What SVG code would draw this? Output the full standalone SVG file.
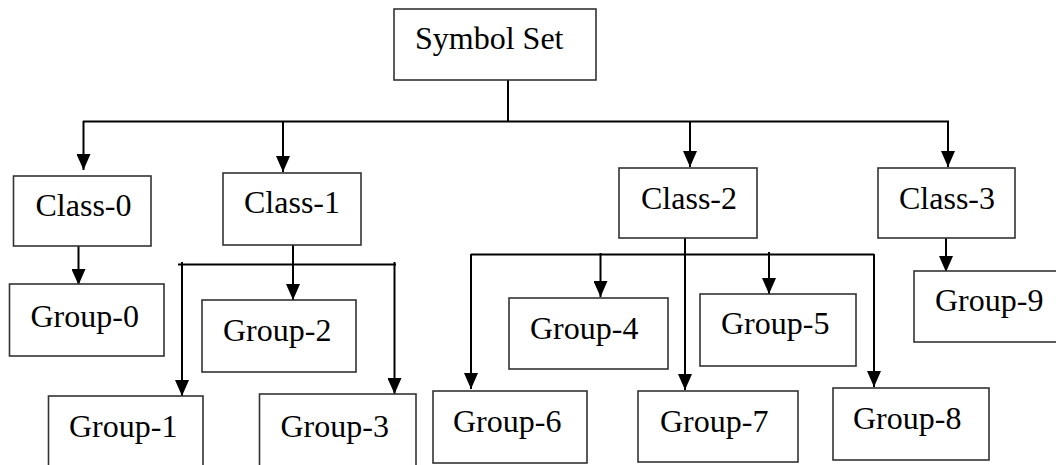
<svg xmlns="http://www.w3.org/2000/svg" width="1056" height="465" viewBox="0 0 1056 465">
<style>
.box{fill:#fff;stroke:#333;stroke-width:1.6}
.lbl{font-family:"Liberation Serif","Times New Roman",serif;font-size:32px;fill:#000}
.ln{stroke:#000;stroke-width:2;fill:none}
.ar{stroke:#000;stroke-width:2;fill:none;marker-end:url(#ah)}
</style>
<defs>
<marker id="ah" markerUnits="userSpaceOnUse" markerWidth="16" markerHeight="14" refX="16" refY="7" orient="auto">
<path d="M0,0 L16,7 L0,14 z" fill="#000"/>
</marker>
</defs>
<rect width="1056" height="465" fill="#fff"/>
<g id="connectors">
<line class="ln" x1="508" y1="74" x2="508" y2="121.5"/>
<line class="ln" x1="83" y1="121.5" x2="949" y2="121.5"/>
<line class="ar" x1="83.5" y1="121" x2="83.5" y2="170"/>
<line class="ar" x1="283" y1="121" x2="283" y2="172"/>
<line class="ar" x1="690" y1="121" x2="690" y2="167"/>
<line class="ar" x1="948" y1="121" x2="948" y2="167"/>
<line class="ar" x1="78.5" y1="246" x2="78.5" y2="285"/>
<line class="ar" x1="293" y1="244" x2="293" y2="300"/>
<line class="ln" x1="178" y1="264.5" x2="396" y2="264.5"/>
<line class="ar" x1="182" y1="262" x2="182" y2="396"/>
<line class="ar" x1="394.5" y1="262" x2="394.5" y2="394"/>
<line class="ar" x1="685" y1="236" x2="685" y2="390"/>
<line class="ln" x1="471" y1="254.5" x2="874" y2="254.5"/>
<line class="ar" x1="471" y1="254" x2="471" y2="389"/>
<line class="ar" x1="600.5" y1="253" x2="600.5" y2="297"/>
<line class="ar" x1="769" y1="252" x2="769" y2="294"/>
<line class="ar" x1="874" y1="254" x2="874" y2="387"/>
<line class="ar" x1="946" y1="238" x2="946" y2="272"/>
</g>
<g id="symbol-set"><rect class="box" x="394" y="9" width="202" height="71"/><text class="lbl" x="415" y="49">Symbol Set</text></g>
<g id="class-0"><rect class="box" x="13.5" y="176" width="137.5" height="70"/><text class="lbl" x="35.5" y="216">Class-0</text></g>
<g id="class-1"><rect class="box" x="223" y="173" width="138" height="72"/><text class="lbl" x="244" y="213">Class-1</text></g>
<g id="class-2"><rect class="box" x="619" y="168" width="138" height="70"/><text class="lbl" x="641" y="209">Class-2</text></g>
<g id="class-3"><rect class="box" x="878" y="168" width="137" height="70"/><text class="lbl" x="899" y="209">Class-3</text></g>
<g id="group-0"><rect class="box" x="9.5" y="284" width="154.5" height="72"/><text class="lbl" x="30.5" y="327">Group-0</text></g>
<g id="group-1"><rect class="box" x="48.5" y="396" width="154.5" height="80"/><text class="lbl" x="69" y="437">Group-1</text></g>
<g id="group-2"><rect class="box" x="202" y="300" width="154" height="72"/><text class="lbl" x="223" y="341">Group-2</text></g>
<g id="group-3"><rect class="box" x="259.5" y="394" width="156.5" height="80"/><text class="lbl" x="280.5" y="437">Group-3</text></g>
<g id="group-4"><rect class="box" x="509" y="298" width="159" height="71"/><text class="lbl" x="530" y="339">Group-4</text></g>
<g id="group-5"><rect class="box" x="700" y="294" width="156" height="72"/><text class="lbl" x="721" y="334">Group-5</text></g>
<g id="group-6"><rect class="box" x="433" y="391" width="154" height="72"/><text class="lbl" x="453" y="432">Group-6</text></g>
<g id="group-7"><rect class="box" x="638" y="391" width="160" height="71"/><text class="lbl" x="660" y="432">Group-7</text></g>
<g id="group-8"><rect class="box" x="833" y="388" width="156" height="72"/><text class="lbl" x="853" y="429">Group-8</text></g>
<g id="group-9"><rect class="box" x="914" y="271" width="200" height="71"/><text class="lbl" x="935" y="311">Group-9</text></g>
</svg>
